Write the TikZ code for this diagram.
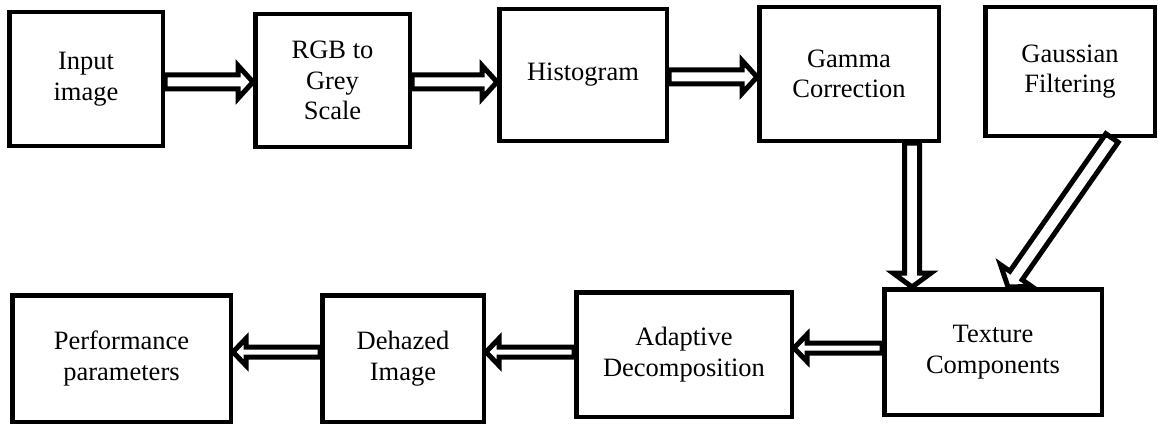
\documentclass[tikz,border=0pt]{standalone}
\usepackage{fontspec}
\setmainfont{Liberation Serif}
\usetikzlibrary{calc}
\tikzset{
  box/.style={draw, line width=4.5pt, align=center, inner sep=0pt,
    font=\fontsize{26.5}{30.5}\selectfont},
  blk/.style args={#1/#2/#3}{line width=5pt, line join=miter, to path={
    ($(\tikztostart)!#1!90:(\tikztotarget)$)
    -- ($(\tikztotarget)!#3!(\tikztostart)!#1!-90:(\tikztostart)$)
    -- ($(\tikztotarget)!#3!(\tikztostart)!#2!-90:(\tikztostart)$)
    -- (\tikztotarget)
    -- ($(\tikztotarget)!#3!(\tikztostart)!#2!90:(\tikztostart)$)
    -- ($(\tikztotarget)!#3!(\tikztostart)!#1!90:(\tikztostart)$)
    -- ($(\tikztostart)!#1!-90:(\tikztotarget)$)
    -- cycle}},
  bigarrow/.style={blk=7pt/16.5pt/15pt},
  vertarrow/.style={blk=7.5pt/19pt/14pt},
  smallarrow/.style={blk=5pt/13.5pt/13pt}
}
\begin{document}
\begin{tikzpicture}[x=1pt,y=-1pt]
\useasboundingbox (0,0) rectangle (1158,425);
% top row
\node[box, minimum width=153.5pt, minimum height=133.5pt] (in)  at (86,79)    {Input\\image};
\node[box, minimum width=154.5pt, minimum height=132.5pt] (rgb) at (332.5,80.5) {RGB to\\Grey\\Scale};
\node[box, minimum width=167.5pt, minimum height=131.5pt] (his) at (583,75)   {Histogram};
\node[box, minimum width=179.5pt, minimum height=133.5pt] (gam) at (849,74)   {Gamma\\Correction};
\node[box, minimum width=169.5pt, minimum height=128.5pt] (gau) at (1070,71.5) {Gaussian\\Filtering};
% bottom row
\node[box, minimum width=217.5pt, minimum height=125.5pt] (tex) at (993,352)  {Texture\\Components};
\node[box, minimum width=215.5pt, minimum height=124.5pt] (ada) at (684,354.5) {Adaptive\\Decomposition};
\node[box, minimum width=161.5pt, minimum height=126.5pt] (deh) at (403,358.5) {Dehazed\\Image};
\node[box, minimum width=218.5pt, minimum height=126.5pt] (per) at (121.5,358.5) {Performance\\parameters};
% connectors
\draw[bigarrow] ([yshift=-3pt]in.east) to ([yshift=-1.5pt]rgb.west);
\draw[bigarrow] ([yshift=-1.5pt]rgb.east) to ([yshift=-7pt]his.west);
\draw[bigarrow] ([yshift=-2pt]his.east) to ([yshift=-3pt]gam.west);
\draw[vertarrow] ([xshift=63pt]gam.south) to ([xshift=-81pt]tex.north);
\draw[vertarrow] ([xshift=42pt]gau.south) to ([xshift=15pt]tex.north);
\draw[smallarrow] ([yshift=4pt]tex.west) to ([yshift=6.5pt]ada.east);
\draw[smallarrow] ([yshift=2.5pt]ada.west) to ([yshift=6.5pt]deh.east);
\draw[smallarrow] ([yshift=6.5pt]deh.west) to ([yshift=6.5pt]per.east);
\end{tikzpicture}
\end{document}
